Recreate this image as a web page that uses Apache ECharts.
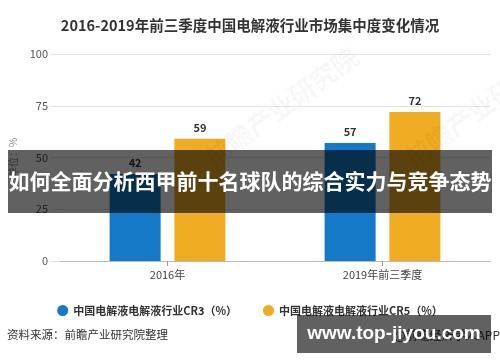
<!DOCTYPE html>
<html><head><meta charset="utf-8">
<script src="https://cdn.jsdelivr.net/npm/echarts@6/dist/echarts.min.js"></script>
<style>html,body{margin:0;padding:0;background:#fff}#c{width:500px;height:362px}</style>
</head><body><div id="c"></div>
<script>
const categories = ['2016年', '2019年前三季度'];
const seriesNames = ['中国电解液电解液行业CR3（%）', '中国电解液电解液行业CR5（%）'];
const cr3 = [42, 57];
const cr5 = [59, 72];
const yTicks = [0, 25, 50, 75, 100];

const chart = echarts.init(document.getElementById('c'));
const F = '"Noto Sans CJK SC", "Liberation Sans", sans-serif';
chart.setOption({
  animation: false,
  textStyle: { fontFamily: F },
  title: {
    text: '2016-2019年前三季度中国电解液行业市场集中度变化情况',
    left: 'center', top: 13,
    textStyle: { fontSize: 14.5, fontWeight: 'bold', color: '#333', fontFamily: F }
  },
  legend: {
    data: seriesNames, left: 'center', top: 300, icon: 'circle',
    itemWidth: 11, itemHeight: 11, itemGap: 26,
    textStyle: { fontSize: 11, fontWeight: 'bold', color: '#333', fontFamily: F }
  },
  grid: { left: 59, right: 10, top: 54, bottom: 101 },
  xAxis: {
    type: 'category', data: categories,
    axisLine: { lineStyle: { color: '#bbb' } },
    axisTick: { show: true, alignWithLabel: true, lineStyle: { color: '#999' } },
    axisLabel: { color: '#444', fontSize: 11, margin: 8 }
  },
  yAxis: {
    type: 'value', min: yTicks[0], max: yTicks[yTicks.length - 1], interval: 25,
    name: '单位：%', nameLocation: 'middle', nameRotate: 90, nameGap: 42,
    nameTextStyle: { color: '#888', fontSize: 10 },
    axisLine: { show: false },
    axisTick: { show: true, length: 9, lineStyle: { color: '#e4e4e4' } },
    axisLabel: { color: '#555', fontSize: 11, margin: 12 },
    splitLine: { lineStyle: { color: '#e4e4e4' } }
  },
  series: [
    { name: seriesNames[0], type: 'bar', data: cr3, barWidth: 51, barGap: '27%',
      itemStyle: { color: '#1479c6' },
      label: { show: true, position: 'top', distance: 6, fontSize: 11, fontWeight: 'bold', color: '#333' } },
    { name: seriesNames[1], type: 'bar', data: cr5, barWidth: 51,
      itemStyle: { color: '#f0ac22' },
      label: { show: true, position: 'top', distance: 6, fontSize: 11, fontWeight: 'bold', color: '#333' } }
  ],
  graphic: [
    { type: 'text', left: 7, top: 329, z: 10,
      style: { text: '资料来源：前瞻产业研究院整理', fill: '#333', font: '11.5px ' + F } },
    { type: 'text', right: 0, top: 329, z: 10,
      style: { text: '@前瞻经济学人APP', fill: '#333', font: '12px ' + F } },
    { type: 'text', x: 200, y: 150, rotation: Math.PI / 5, z: 5,
      style: { text: '前瞻产业研究院', fill: 'rgba(0,0,0,0.03)', font: 'bold 26px ' + F } },
    { type: 'text', x: 400, y: 150, rotation: Math.PI / 5, z: 5,
      style: { text: '前瞻产业研究院', fill: 'rgba(0,0,0,0.03)', font: 'bold 26px ' + F } },
    { type: 'rect', shape: { x: 8, y: 150, width: 484, height: 63 }, z: 100,
      style: { fill: 'rgba(0,0,0,0.62)' } },
    { type: 'text', x: 250, y: 181, z: 101,
      style: { text: '如何全面分析西甲前十名球队的综合实力与竞争态势', fill: '#fff',
               font: 'bold 21px ' + F, textAlign: 'center', textVerticalAlign: 'middle' } },
    { type: 'rect', shape: { x: 297, y: 315, width: 194, height: 38 }, z: 100,
      style: { fill: 'rgba(0,0,0,0.62)' } },
    { type: 'text', x: 394, y: 334, z: 101,
      style: { text: 'www.top-jiyou.com', fill: '#fff',
               font: 'bold 19px "Liberation Sans", "DejaVu Sans", sans-serif', textAlign: 'center', textVerticalAlign: 'middle' } }
  ]
});
</script>
</body></html>
